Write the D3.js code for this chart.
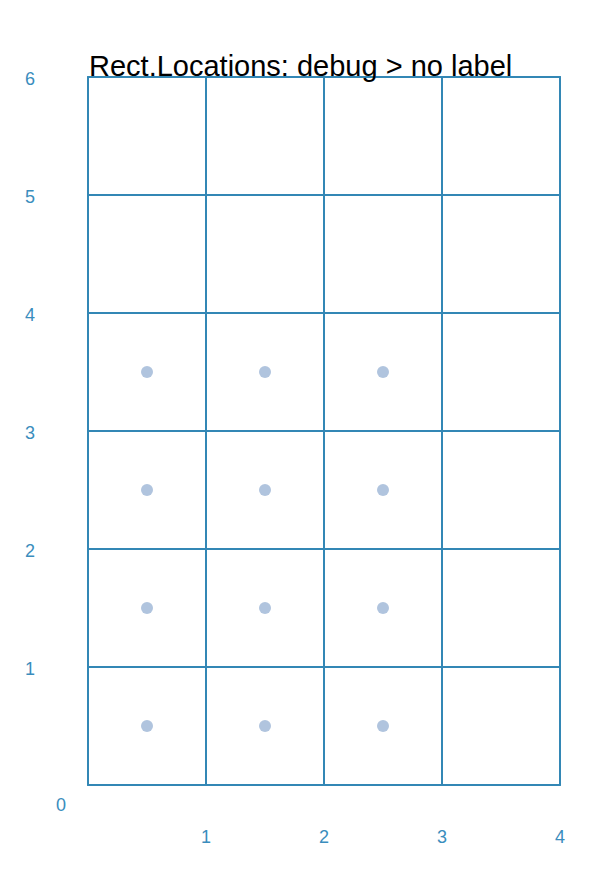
<!DOCTYPE html>
<html><head><meta charset="utf-8">
<script src="https://cdn.jsdelivr.net/npm/d3@7"></script>
<style>body{margin:0;background:#fff;} svg{display:block;}</style>
</head><body>
<script>
const title = "Rect.Locations: debug > no label";
const xTicks = [1, 2, 3, 4];
const yTicks = [1, 2, 3, 4, 5, 6];
const gridX = [0, 1, 2, 3, 4];
const gridY = [0, 1, 2, 3, 4, 5, 6];
const pointX = [0.5, 1.5, 2.5, 0.5, 1.5, 2.5, 0.5, 1.5, 2.5, 0.5, 1.5, 2.5];
const pointY = [0.5, 0.5, 0.5, 1.5, 1.5, 1.5, 2.5, 2.5, 2.5, 3.5, 3.5, 3.5];

const W = 615, H = 875;
const svg = d3.select("body").append("svg").attr("width", W).attr("height", H);
const x = d3.scaleLinear().domain([0, 4]).range([88, 560]);
const y = d3.scaleLinear().domain([0, 6]).range([785, 77]);
const lineColor = "#3387b5", textColor = "#3a8dbd";

const g = svg.append("g");
g.selectAll("line.v").data(gridX).join("line").attr("class","v")
  .attr("x1", d => x(d)).attr("x2", d => x(d)).attr("y1", y(0)).attr("y2", y(6))
  .attr("stroke", lineColor).attr("stroke-width", 2).attr("stroke-linecap","round");
g.selectAll("line.h").data(gridY).join("line").attr("class","h")
  .attr("y1", d => y(d)).attr("y2", d => y(d)).attr("x1", x(0)).attr("x2", x(4))
  .attr("stroke", lineColor).attr("stroke-width", 2).attr("stroke-linecap","round");

g.selectAll("circle").data(pointX.map((v,i)=>[v,pointY[i]])).join("circle")
  .attr("cx", d => x(d[0])).attr("cy", d => y(d[1])).attr("r", 6).attr("fill", "#b0c4de");

const font = "Liberation Sans, Arial, sans-serif";
svg.selectAll("text.yt").data(yTicks).join("text").attr("class","yt")
  .attr("x", 30).attr("y", d => y(d) + 2).attr("dy", "0.35em").attr("text-anchor","middle")
  .attr("font-family", font).attr("font-size", 18).attr("fill", textColor).text(d => d);
svg.selectAll("text.xt").data(xTicks).join("text").attr("class","xt")
  .attr("x", d => x(d)).attr("y", 837).attr("dy", "0.35em").attr("text-anchor","middle")
  .attr("font-family", font).attr("font-size", 18).attr("fill", textColor).text(d => d);
svg.append("text").attr("x", 61).attr("y", 805).attr("dy","0.35em").attr("text-anchor","middle")
  .attr("font-family", font).attr("font-size", 18).attr("fill", textColor).text(0);

svg.append("text").attr("x", 89).attr("y", 76).attr("font-family", font)
  .attr("font-size", 29).attr("fill", "#000").text(title);
</script>
</body></html>
